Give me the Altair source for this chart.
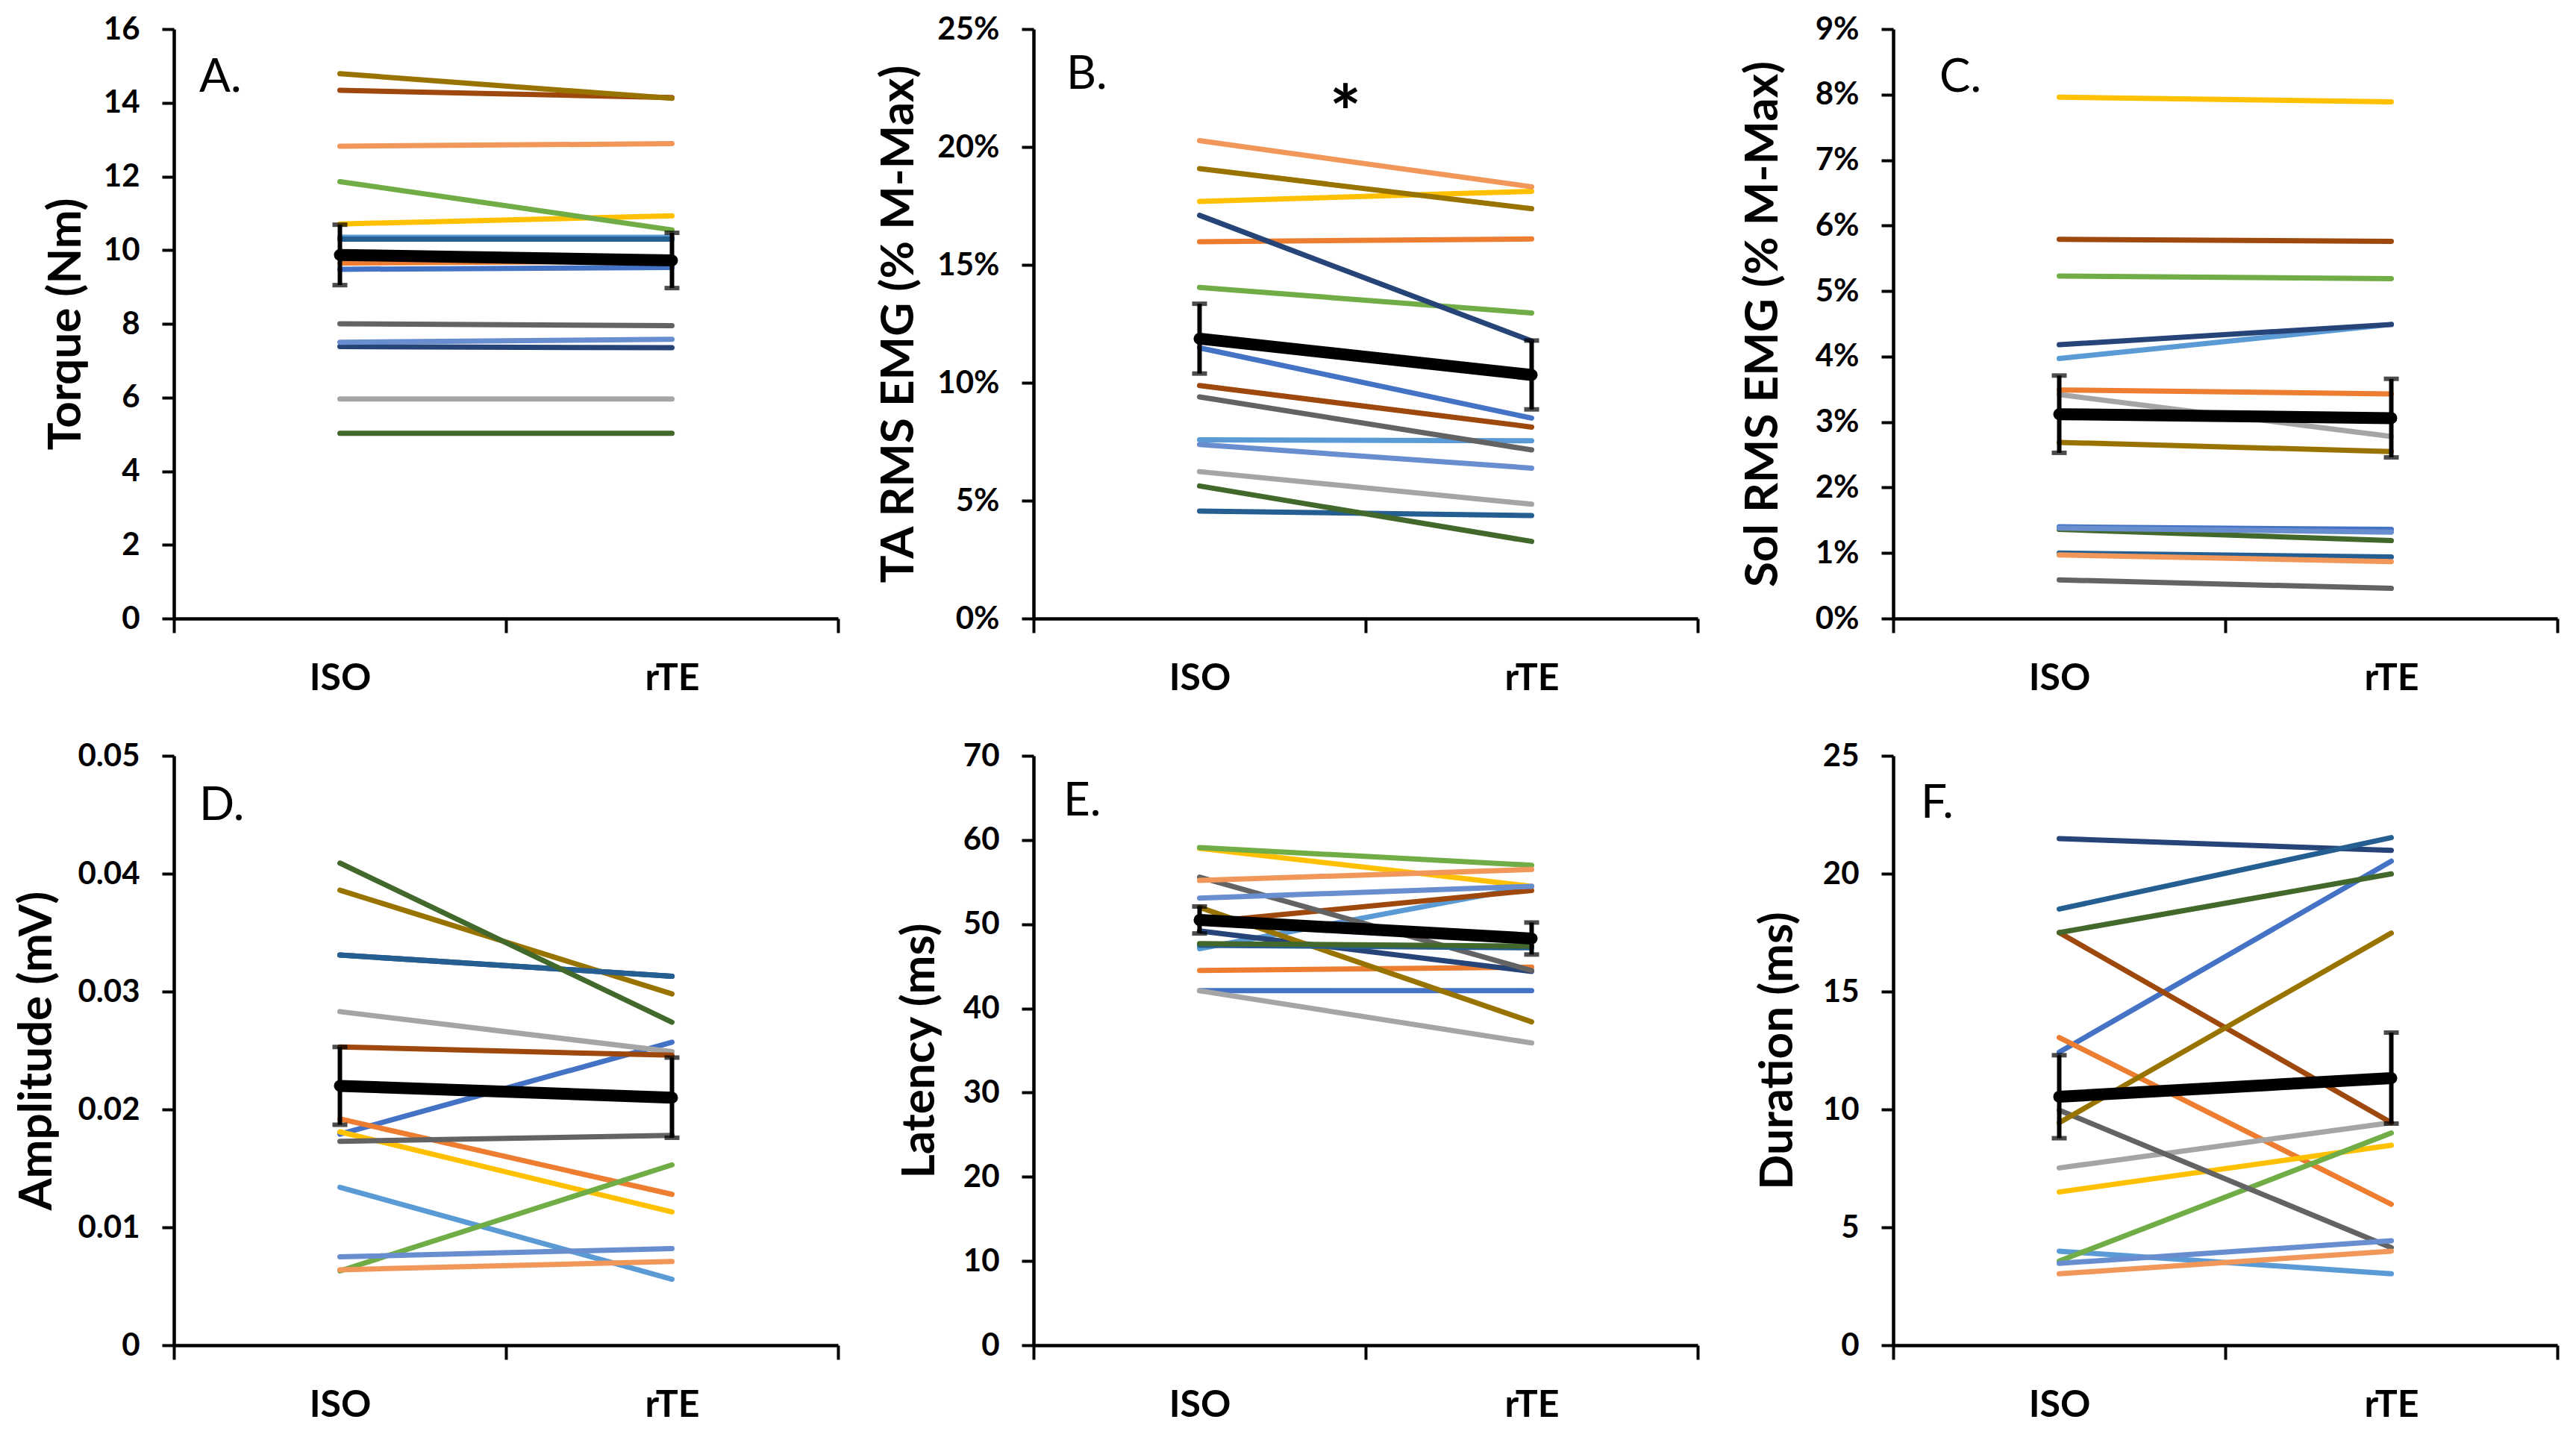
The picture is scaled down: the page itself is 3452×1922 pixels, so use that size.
import altair as alt
import pandas as pd

conds = ["ISO", "rTE"]
subjects = [f"S{i}" for i in range(1, 15)]
colors = ["#4472C4", "#ED7D31", "#A5A5A5", "#FFC000", "#5B9BD5", "#70AD47", "#264478",
          "#9E480E", "#636363", "#997300", "#255E91", "#43682B", "#698ED0", "#F1975A"]

# A. Torque (Nm)
torque_iso = [9.48, 9.65, 5.96, 10.71, 10.35, 11.86, 7.38, 14.34, 8.00, 14.79, 10.30, 5.03, 7.50, 12.82]
torque_rte = [9.53, 9.70, 5.96, 10.93, 10.35, 10.55, 7.35, 14.14, 7.95, 14.12, 10.30, 5.03, 7.58, 12.89]
torque_mean = [9.87, 9.72]
torque_se = [0.82, 0.75]

# B. TA RMS EMG (% M-Max)
ta_iso = [11.48, 15.98, 6.23, 17.69, 7.58, 14.04, 17.10, 9.88, 9.40, 19.08, 4.56, 5.62, 7.38, 20.27]
ta_rte = [8.50, 16.10, 4.85, 18.12, 7.54, 12.96, 11.77, 8.12, 7.15, 17.38, 4.37, 3.27, 6.38, 18.31]
ta_mean = [11.87, 10.33]
ta_se = [1.48, 1.46]

# C. Sol RMS EMG (% M-Max)
sol_iso = [1.40, 3.49, 3.42, 7.96, 3.97, 5.23, 4.18, 5.79, 0.59, 2.69, 1.00, 1.36, 1.38, 0.97]
sol_rte = [1.36, 3.43, 2.78, 7.89, 4.49, 5.19, 4.49, 5.76, 0.46, 2.55, 0.94, 1.19, 1.32, 0.87]
sol_mean = [3.12, 3.06]
sol_se = [0.59, 0.60]

# D. Amplitude (mV)
amp_iso = [0.0179, 0.0192, 0.0283, 0.0181, 0.0134, 0.0063, 0.0331, 0.0253, 0.0173, 0.0386, 0.0331, 0.0409, 0.0075, 0.0064]
amp_rte = [0.0257, 0.0128, 0.0249, 0.0113, 0.0056, 0.0153, 0.0313, 0.0246, 0.0178, 0.0298, 0.0313, 0.0274, 0.0082, 0.0071]
amp_mean = [0.0220, 0.0210]
amp_se = [0.0033, 0.0034]

# E. Latency (ms)
lat_iso = [42.1, 44.5, 42.1, 59.0, 47.1, 59.1, 49.2, 50.2, 55.6, 52.0, 47.5, 47.7, 53.1, 55.2]
lat_rte = [42.1, 44.9, 35.9, 54.5, 54.5, 57.0, 44.4, 54.0, 44.5, 38.4, 47.2, 47.4, 54.5, 56.5]
lat_mean = [50.5, 48.3]
lat_se = [1.6, 1.9]

# F. Duration (ms)
dur_iso = [12.43, 13.05, 7.52, 6.50, 3.99, 3.57, 21.49, 17.50, 9.97, 9.44, 18.50, 17.50, 3.47, 3.03]
dur_rte = [20.53, 5.98, 9.44, 8.48, 3.03, 9.00, 20.99, 9.44, 4.14, 17.48, 21.53, 19.99, 4.43, 3.99]
dur_mean = [10.54, 11.33]
dur_se = [1.76, 1.93]

W, H = 890, 790
FONT = "Lato"

panels = [
    dict(letter="A.", title="Torque (Nm)", iso=torque_iso, rte=torque_rte, mean=torque_mean, se=torque_se,
         ymax=16, ticks=[0, 2, 4, 6, 8, 10, 12, 14, 16], expr="datum.value", tx=145, lx=34, ly=84),
    dict(letter="B.", title="TA RMS EMG (% M-Max)", iso=ta_iso, rte=ta_rte, mean=ta_mean, se=ta_se,
         ymax=25, ticks=[0, 5, 10, 15, 20, 25], expr="datum.value + '%'", tx=181, lx=44, ly=80, star=22.2),
    dict(letter="C.", title="Sol RMS EMG (% M-Max)", iso=sol_iso, rte=sol_rte, mean=sol_mean, se=sol_se,
         ymax=9, ticks=list(range(10)), expr="datum.value + '%'", tx=175, lx=62, ly=84),
    dict(letter="D.", title="Amplitude (mV)", iso=amp_iso, rte=amp_rte, mean=amp_mean, se=amp_se,
         ymax=0.05, ticks=[0, 0.01, 0.02, 0.03, 0.04, 0.05],
         expr="datum.value == 0 ? '0' : format(datum.value, '.2f')", tx=184, lx=34, ly=86),
    dict(letter="E.", title="Latency (ms)", iso=lat_iso, rte=lat_rte, mean=lat_mean, se=lat_se,
         ymax=70, ticks=[0, 10, 20, 30, 40, 50, 60, 70], expr="datum.value", tx=153, lx=40, ly=80),
    dict(letter="F.", title="Duration (ms)", iso=dur_iso, rte=dur_rte, mean=dur_mean, se=dur_se,
         ymax=25, ticks=[0, 5, 10, 15, 20, 25], expr="datum.value", tx=155, lx=37, ly=83),
]


def make_panel(p):
    rows = []
    for s, a, b in zip(subjects, p["iso"], p["rte"]):
        rows.append({"subject": s, "cond": "ISO", "value": a})
        rows.append({"subject": s, "cond": "rTE", "value": b})
    df = pd.DataFrame(rows)
    mdf = pd.DataFrame({"cond": conds, "mean": p["mean"],
                        "lo": [m - e for m, e in zip(p["mean"], p["se"])],
                        "hi": [m + e for m, e in zip(p["mean"], p["se"])]})
    cap_df = pd.DataFrame({"cond": conds * 2,
                           "v": list(mdf["lo"]) + list(mdf["hi"])})

    xscale = alt.Scale(type="band", domain=conds, paddingInner=0, paddingOuter=0)
    yscale = alt.Scale(domain=[0, p["ymax"]], nice=False, zero=True)
    xaxis = alt.Axis(title=None, tickBand="extent", labelAngle=0, labelFont=FONT, labelFontWeight="bold",
                     labelFontSize=50, labelColor="black", labelPadding=36, tickSize=19, tickWidth=4,
                     tickColor="black", domainColor="black", domainWidth=4.5, grid=False)
    yaxis = alt.Axis(title=p["title"], values=p["ticks"], labelExpr=p["expr"], grid=False,
                     labelFont=FONT, labelFontWeight="bold", labelFontSize=42, labelColor="black",
                     labelPadding=30, tickSize=16, tickWidth=4, tickColor="black",
                     domainColor="black", domainWidth=4.5,
                     titleFont=FONT, titleFontWeight="bold", titleFontSize=62, titleColor="black",
                     titleX=-p["tx"], titleY=H / 2, titleBaseline="middle", titleAngle=270,
                     titleAlign="center")

    x = alt.X("cond:N", scale=xscale, axis=xaxis)

    lines = alt.Chart(df).mark_line(strokeWidth=7, strokeCap="round").encode(
        x=x,
        y=alt.Y("value:Q", scale=yscale, axis=yaxis),
        color=alt.Color("subject:N", scale=alt.Scale(domain=subjects, range=colors), legend=None),
        order=alt.Order("cond:N"),
    )
    err = alt.Chart(mdf).mark_rule(strokeWidth=6, color="black").encode(
        x=alt.X("cond:N", scale=xscale), y=alt.Y("lo:Q", scale=yscale), y2="hi:Q")
    caps = alt.Chart(cap_df).mark_tick(thickness=6, size=20, color="black").encode(
        x=alt.X("cond:N", scale=xscale), y=alt.Y("v:Q", scale=yscale))
    mean = alt.Chart(mdf).mark_line(strokeWidth=16, color="black", strokeCap="round").encode(
        x=alt.X("cond:N", scale=xscale), y=alt.Y("mean:Q", scale=yscale))
    letter = alt.Chart(pd.DataFrame({"t": [p["letter"]]})).mark_text(
        font=FONT, fontSize=62, align="left", baseline="alphabetic", color="black").encode(
        text="t:N", x=alt.value(p["lx"]), y=alt.value(p["ly"]))
    layers = [lines, err, caps, mean, letter]
    if "star" in p:
        star = alt.Chart(pd.DataFrame({"cond": ["rTE"], "v": [p["star"]], "t": ["*"]})).mark_text(
            font=FONT, fontSize=100, fontWeight="bold", baseline="middle", align="center",
            color="black", dx=-27, dy=30).encode(
            x=alt.X("cond:N", scale=xscale, bandPosition=0), y=alt.Y("v:Q", scale=yscale), text="t:N")
        layers.append(star)
    return alt.layer(*layers).properties(width=W, height=H)


chart = alt.concat(*[make_panel(p) for p in panels], columns=3).properties(
    spacing=alt.RowColnumber(row=184, column=262), bounds="flush",
    padding={"left": 10, "top": 10, "right": 5, "bottom": 5},
    background="white",
).configure_view(stroke=None)

chart.save("out.html", embed_options={"renderer": "svg", "actions": False})
